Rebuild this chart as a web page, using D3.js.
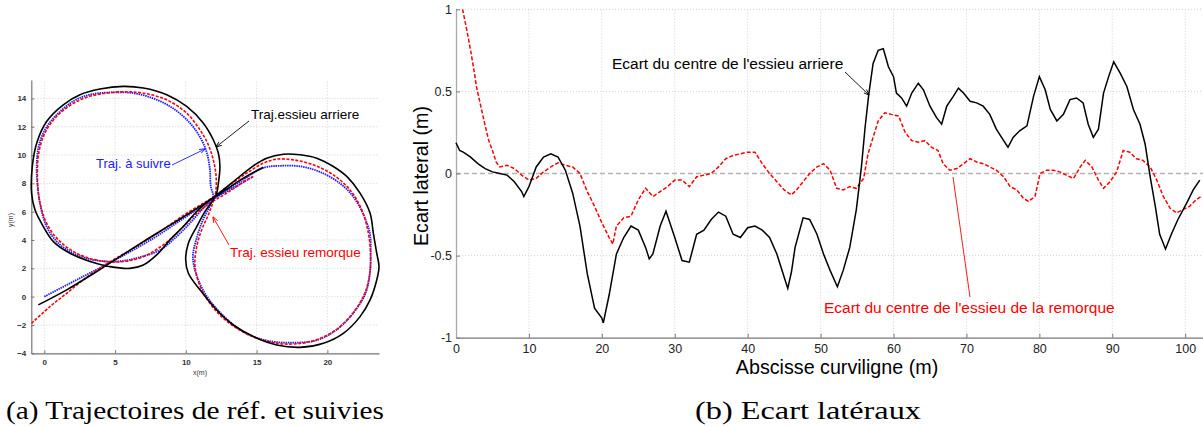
<!DOCTYPE html>
<html><head><meta charset="utf-8">
<script src="https://cdnjs.cloudflare.com/ajax/libs/d3/7.8.5/d3.min.js"></script>
<style>body{margin:0;background:#fff}svg{display:block}</style>
</head><body>
<script>
// ---------- Right plot data (abscisse curviligne, écart latéral) ----------
const rearDev = [[0,0.187],[0.5,0.14],[1,0.13],[2,0.10],[3,0.06],[4,0.03],[5,0.01],[6,0.0],[7,-0.01],[8,-0.05],[9,-0.11],[9.3,-0.14],[10,-0.08],[11,0.04],[12,0.10],[13,0.12],[14,0.10],[15,0.02],[16,-0.12],[17,-0.32],[18,-0.61],[19,-0.82],[20,-0.88],[20.2,-0.91],[21,-0.74],[22,-0.49],[23,-0.39],[24,-0.32],[25,-0.345],[26,-0.45],[26.5,-0.52],[27,-0.49],[28,-0.32],[28.8,-0.23],[30,-0.39],[31,-0.53],[32,-0.54],[33,-0.37],[34,-0.345],[35,-0.28],[36,-0.235],[37,-0.26],[38,-0.37],[39,-0.39],[40,-0.33],[41,-0.32],[42,-0.345],[43,-0.39],[44,-0.49],[45,-0.63],[45.5,-0.70],[46,-0.6],[46.5,-0.45],[47.6,-0.27],[48.5,-0.28],[49.5,-0.37],[50.4,-0.49],[51.3,-0.59],[52.3,-0.69],[53.1,-0.59],[54,-0.45],[54.9,-0.22],[55.6,0.04],[56.1,0.28],[56.6,0.48],[57.2,0.67],[57.9,0.75],[58.6,0.76],[59.3,0.65],[60,0.59],[60.4,0.49],[61.1,0.46],[61.8,0.41],[62.5,0.49],[63.4,0.55],[64.1,0.51],[65,0.41],[65.9,0.34],[66.6,0.30],[67.3,0.41],[68.2,0.47],[68.9,0.52],[69.6,0.49],[70.5,0.44],[71.4,0.43],[72.3,0.41],[73.2,0.36],[74.1,0.27],[75.1,0.20],[75.7,0.16],[76.4,0.22],[77.3,0.26],[78.3,0.29],[79.2,0.47],[80,0.59],[80.8,0.51],[81.5,0.39],[82.4,0.32],[83.3,0.36],[84.2,0.45],[85.1,0.46],[86,0.43],[86.7,0.30],[87.4,0.22],[88.1,0.27],[88.8,0.49],[89.5,0.59],[90.2,0.68],[91.1,0.61],[92,0.53],[92.9,0.39],[93.8,0.30],[94.5,0.18],[95.2,-0.02],[95.9,-0.20],[96.5,-0.37],[97.3,-0.46],[98.1,-0.37],[99,-0.28],[100.2,-0.18],[101.1,-0.10],[102,-0.04]];
const trailDev = [[0.9,1.0],[1.5,0.87],[2,0.75],[2.5,0.62],[2.8,0.53],[3,0.49],[3.5,0.39],[4,0.29],[4.5,0.20],[5,0.14],[5.5,0.07],[6,0.04],[7,0.05],[8,0.03],[9,-0.01],[10,-0.04],[11,-0.03],[12,0.01],[13,0.04],[14,0.065],[15,0.05],[16,0.04],[17,0.0],[18,-0.11],[19,-0.2],[20,-0.30],[21,-0.39],[21.5,-0.43],[22,-0.32],[23,-0.27],[24,-0.26],[25,-0.16],[26,-0.09],[27,-0.14],[28,-0.11],[29,-0.08],[30,-0.04],[31,-0.04],[32,-0.08],[33,-0.02],[34,-0.01],[35,0.0],[36,0.04],[37,0.09],[38,0.11],[39,0.12],[40,0.13],[41,0.13],[42,0.06],[43,0.0],[44,-0.05],[45,-0.10],[46,-0.13],[46.7,-0.10],[47.6,-0.05],[48.5,0.0],[49.5,0.04],[50.4,0.06],[51.3,0.02],[52.2,-0.09],[53.1,-0.10],[54,-0.08],[54.9,-0.09],[55.9,-0.03],[56.5,0.12],[57.2,0.22],[57.9,0.32],[58.8,0.37],[59.7,0.36],[60.7,0.35],[61.6,0.25],[62.5,0.20],[63.4,0.19],[64.3,0.20],[65.2,0.16],[66.1,0.14],[66.8,0.06],[67.7,0.02],[68.7,0.03],[69.6,0.06],[70.5,0.09],[71.4,0.07],[72.3,0.06],[73.2,0.04],[74.1,0.02],[75.1,-0.02],[76,-0.08],[76.9,-0.10],[77.8,-0.15],[78.5,-0.17],[79.4,-0.14],[80.1,0.0],[81,0.02],[81.9,0.02],[82.8,0.01],[83.7,-0.01],[84.7,-0.03],[85.6,0.04],[86.3,0.08],[87.2,0.04],[88.1,-0.04],[88.8,-0.09],[89.7,-0.05],[90.6,0.01],[91.5,0.14],[92.4,0.13],[93.3,0.09],[94.2,0.08],[95.2,0.04],[96.1,-0.04],[97,-0.14],[97.9,-0.21],[98.8,-0.24],[99.7,-0.22],[100.6,-0.20],[101.5,-0.16],[102.2,-0.14]];
const devXTicks = [0,10,20,30,40,50,60,70,80,90,100];
const devYTicks = [-1,-0.5,0,0.5,1];

// ---------- Left plot data (trajectoires x(m), y(m)) ----------
const refPath = [[0,0],[2.5,1.3],[5.0,2.6],[7.5,4.0],[9.8,5.5],[11.9,6.9],[13.8,8.1],[15.5,9.1],[16.7,9.24],[18.1,9.2],[19.5,8.8],[20.9,8.0],[21.8,7.1],[22.5,5.9],[23.0,4.5],[23.06,3.1],[23.0,1.65],[22.7,0.24],[21.8,-1.2],[20.7,-2.3],[19.3,-3.06],[17.6,-3.25],[15.7,-3.1],[14.1,-2.5],[12.7,-1.4],[11.5,0.0],[10.8,1.4],[10.5,2.8],[10.8,4.25],[11.2,5.4],[11.7,6.4],[11.94,7.07],[11.76,7.8],[11.7,9.0],[11.5,10.1],[11.1,11.1],[10.3,12.25],[9.1,13.3],[7.7,14.0],[6.3,14.37],[4.6,14.42],[3.2,14.26],[2.05,13.8],[0.87,12.84],[0.05,11.8],[-0.42,10.5],[-0.54,9.0],[-0.47,7.78],[-0.26,6.35],[0.16,4.95],[0.87,3.9],[1.8,3.2],[3.0,2.7],[4.2,2.5],[5.35,2.5],[6.8,2.8],[8.2,3.3],[9.35,4.25],[10.3,5.2],[11.24,6.25],[11.94,6.88],[13.4,7.7],[14.7,8.44]];
const rearPath = [[-0.42,-0.58],[1.58,0.48],[3.70,1.77],[4.99,2.60],[7.0,3.89],[9.12,5.19],[11.0,6.37],[12.18,7.19],[13.36,8.13],[14.77,9.24],[15.71,9.78],[16.89,10.06],[18.07,10.02],[19.25,9.78],[20.42,9.19],[21.37,8.49],[22.31,7.31],[23.02,5.89],[23.25,4.48],[23.49,3.07],[23.65,2.12],[23.49,1.18],[23.02,-0.23],[22.31,-1.41],[21.13,-2.59],[19.72,-3.29],[18.07,-3.58],[16.42,-3.41],[14.77,-2.82],[13.36,-2.0],[12.18,-0.94],[11.0,0.48],[10.18,1.65],[9.99,2.6],[10.18,3.77],[10.77,4.95],[11.35,6.01],[11.94,6.84],[12.18,7.31],[12.30,8.01],[12.41,9.19],[12.30,10.13],[11.94,11.08],[11.24,12.25],[10.06,13.43],[8.65,14.26],[7.0,14.73],[5.58,14.85],[3.93,14.66],[2.52,14.26],[1.34,13.55],[0.16,12.37],[-0.54,10.84],[-0.85,9.19],[-0.9,7.31],[-0.66,6.13],[-0.07,4.95],[0.64,3.89],[1.81,3.07],[3.23,2.48],[4.64,2.12],[6.05,2.0],[7.0,2.24],[7.94,2.95],[8.88,4.01],[9.82,4.95],[10.77,6.01],[11.71,6.84],[12.65,7.43],[14.06,8.37],[15.48,9.14]];
const trailPath = [[-0.9,-1.88],[0.40,-0.70],[1.58,0.24],[2.99,1.37],[4.40,2.31],[6.29,3.42],[8.17,4.60],[10.06,5.89],[11.71,6.88],[13.12,7.90],[14.30,8.72],[15.48,9.43],[16.42,9.71],[17.60,9.66],[19.01,9.31],[20.42,8.60],[21.60,7.54],[22.43,6.13],[22.90,4.48],[23.06,2.83],[22.97,1.42],[22.54,0.0],[21.60,-1.41],[20.42,-2.47],[18.77,-3.18],[16.89,-3.34],[15.24,-3.01],[13.59,-2.23],[12.18,-1.06],[11.12,0.48],[10.65,2.12],[10.77,3.54],[11.12,4.72],[11.59,5.78],[11.94,6.72],[12.13,7.54],[12.13,8.60],[11.94,9.66],[11.59,10.72],[11.0,11.78],[10.06,12.96],[8.65,13.90],[7.0,14.37],[5.58,14.47],[3.93,14.30],[2.52,13.90],[1.11,12.96],[0.16,11.78],[-0.35,10.37],[-0.49,8.72],[-0.35,6.84],[0.16,5.19],[0.99,4.01],[2.28,3.07],[3.93,2.53],[5.58,2.48],[7.0,2.83],[8.41,3.66],[9.59,4.72],[10.77,5.89],[11.71,6.60],[12.89,7.31],[14.30,8.25],[14.77,8.49]];
const trajXTicks = [0,5,10,15,20];
const trajYTicks = [-4,-2,0,2,4,6,8,10,12,14];

const W = 1203, H = 427;
const svg = d3.select("body").append("svg").attr("width", W).attr("height", H)
  .style("font-family", "'Liberation Sans', Arial, sans-serif");
svg.append("rect").attr("width", W).attr("height", H).attr("fill", "#fff");

const defs = svg.append("defs");
function marker(id, color) {
  defs.append("marker").attr("id", id).attr("viewBox", "0 0 10 10").attr("refX", 9).attr("refY", 5)
    .attr("markerWidth", 7).attr("markerHeight", 7).attr("orient", "auto-start-reverse")
    .append("path").attr("d", "M0,1.5 L10,5 L0,8.5").attr("fill", "none").attr("stroke", color).attr("stroke-width", 1.4);
}
marker("arrK", "#000"); marker("arrB", "#1a1aff"); marker("arrR", "#ff0000");

// ================= LEFT PLOT =================
const lx = d3.scaleLinear().domain([-0.92, 23.65]).range([31.3, 379]);
const ly = d3.scaleLinear().domain([-4, 15.3]).range([353.3, 80]);
const L = svg.append("g");
L.selectAll(".gx").data(trajXTicks).join("line")
  .attr("x1", d => lx(d)).attr("x2", d => lx(d)).attr("y1", ly(-4)).attr("y2", 80)
  .attr("stroke", "#c8c8c8").attr("stroke-width", 0.8).attr("stroke-dasharray", "1,2");
L.selectAll(".gy").data(trajYTicks).join("line")
  .attr("x1", 31.3).attr("x2", 379).attr("y1", d => ly(d)).attr("y2", d => ly(d))
  .attr("stroke", "#c8c8c8").attr("stroke-width", 0.8).attr("stroke-dasharray", "1,2");
const lxAxis = L.append("g").attr("transform", `translate(0,${ly(-4)})`)
  .call(d3.axisBottom(lx).tickValues(trajXTicks).tickSizeInner(-3).tickSizeOuter(0).tickPadding(6));
const lyAxis = L.append("g").attr("transform", `translate(${lx(-0.92)},0)`)
  .call(d3.axisLeft(ly).tickValues(trajYTicks).tickSizeInner(-3).tickSizeOuter(0).tickPadding(5));
[lxAxis, lyAxis].forEach(a => {
  a.select(".domain").attr("stroke", "#777").attr("stroke-width", 1.2);
  a.selectAll(".tick line").attr("stroke", "#777");
  a.selectAll("text").attr("font-size", 8).attr("font-weight", "bold").attr("fill", "#333")
   .attr("font-family", "'Liberation Sans', Arial, sans-serif");
});
L.append("text").attr("x", 200).attr("y", 375).attr("font-size", 7).attr("text-anchor", "middle").attr("fill", "#333").text("x(m)");
L.append("text").attr("transform", "translate(13,220) rotate(-90)").attr("font-size", 7).attr("text-anchor", "middle").attr("fill", "#333").text("y(m)");

const ll = d3.line().x(d => lx(d[0])).y(d => ly(d[1])).curve(d3.curveCatmullRom.alpha(0.5));
L.append("path").attr("d", ll(refPath)).attr("fill", "none").attr("stroke", "#1a1aff").attr("stroke-width", 1.8).attr("stroke-dasharray", "1.5,0.8");
L.append("path").attr("d", ll(trailPath)).attr("fill", "none").attr("stroke", "#ff0000").attr("stroke-width", 1.6).attr("stroke-dasharray", "3,1.5");
L.append("path").attr("d", ll(rearPath)).attr("fill", "none").attr("stroke", "#000").attr("stroke-width", 1.6);

L.append("text").attr("x", 251).attr("y", 119).attr("font-size", 13.5).attr("fill", "#000").text("Traj.essieu arriere");
L.append("line").attr("x1", 249).attr("y1", 121).attr("x2", 216).attr("y2", 147).attr("stroke", "#000").attr("stroke-width", 0.9).attr("marker-end", "url(#arrK)");
L.append("text").attr("x", 96).attr("y", 168).attr("font-size", 13).attr("fill", "#1a1aff").text("Traj. à suivre");
L.append("line").attr("x1", 172).attr("y1", 165).attr("x2", 205).attr("y2", 149).attr("stroke", "#1a1aff").attr("stroke-width", 0.9).attr("marker-end", "url(#arrB)");
L.append("text").attr("x", 230).attr("y", 257).attr("font-size", 13.5).attr("fill", "#ff0000").text("Traj. essieu remorque");
L.append("line").attr("x1", 229).attr("y1", 245).attr("x2", 213).attr("y2", 217).attr("stroke", "#ff0000").attr("stroke-width", 0.9).attr("marker-end", "url(#arrR)");

// ================= RIGHT PLOT =================
const rx = d3.scaleLinear().domain([0, 102.5]).range([456, 456 + 102.5 * 7.292]);
const ry = d3.scaleLinear().domain([-1, 1]).range([337.7, 9.3]);
const R = svg.append("g");
R.selectAll(".gx").data(devXTicks.filter(d => d > 0)).join("line")
  .attr("x1", d => rx(d)).attr("x2", d => rx(d)).attr("y1", ry(-1)).attr("y2", ry(1))
  .attr("stroke", "#c8c8c8").attr("stroke-width", 0.8).attr("stroke-dasharray", "1,2");
R.selectAll(".gy").data(devYTicks.filter(d => d !== -1 && d !== 0)).join("line")
  .attr("x1", rx(0)).attr("x2", W).attr("y1", d => ry(d)).attr("y2", d => ry(d))
  .attr("stroke", "#c8c8c8").attr("stroke-width", 0.8).attr("stroke-dasharray", "1,2");
R.append("line").attr("x1", rx(0)).attr("x2", W).attr("y1", ry(0)).attr("y2", ry(0))
  .attr("stroke", "#b4b4b4").attr("stroke-width", 1.4).attr("stroke-dasharray", "5,3");
const rxAxis = R.append("g").attr("transform", `translate(0,${ry(-1)})`)
  .call(d3.axisBottom(rx).tickValues(devXTicks).tickFormat(d3.format("d")).tickSizeInner(-4).tickSizeOuter(0).tickPadding(6));
const ryAxis = R.append("g").attr("transform", `translate(${rx(0)},0)`)
  .call(d3.axisLeft(ry).tickValues(devYTicks).tickFormat(d => String(d)).tickSizeInner(-4).tickSizeOuter(0).tickPadding(4));
rxAxis.select(".domain").attr("stroke", "#777").attr("stroke-width", 1.3);
ryAxis.select(".domain").attr("stroke", "#aaa").attr("stroke-width", 1.3);
[rxAxis, ryAxis].forEach(a => {
  a.selectAll(".tick line").attr("stroke", "#777");
  a.selectAll("text").attr("font-size", 12.5).attr("fill", "#222").attr("font-family", "'Liberation Sans', Arial, sans-serif");
});
R.append("text").attr("x", 837).attr("y", 374).attr("font-size", 19.7).attr("text-anchor", "middle").attr("fill", "#000").text("Abscisse curviligne (m)");
R.append("text").attr("transform", "translate(428,176) rotate(-90)").attr("font-size", 19.7).attr("text-anchor", "middle").attr("fill", "#000").text("Ecart lateral (m)");

const rl = d3.line().x(d => rx(d[0])).y(d => ry(d[1]));
R.append("path").attr("d", rl(trailDev)).attr("fill", "none").attr("stroke", "#ff0000").attr("stroke-width", 1.5).attr("stroke-dasharray", "4,2");
R.append("path").attr("d", rl(rearDev)).attr("fill", "none").attr("stroke", "#000").attr("stroke-width", 1.5);

R.append("text").attr("x", 612).attr("y", 69).attr("font-size", 15.5).attr("fill", "#000").text("Ecart du centre de l'essieu arriere");
R.append("line").attr("x1", 845).attr("y1", 72).attr("x2", 869).attr("y2", 95).attr("stroke", "#000").attr("stroke-width", 0.9).attr("marker-end", "url(#arrK)");
R.append("text").attr("x", 824).attr("y", 313).attr("font-size", 15.5).attr("fill", "#ff0000").text("Ecart du centre de l'essieu de la remorque");
R.append("line").attr("x1", 970).attr("y1", 297).attr("x2", 953).attr("y2", 177).attr("stroke", "#ff0000").attr("stroke-width", 0.9);

// ================= CAPTIONS =================
svg.append("text").attr("x", 6).attr("y", 419).attr("font-family", "'Liberation Serif', serif").attr("font-size", 26)
  .attr("textLength", 378).attr("lengthAdjust", "spacingAndGlyphs").attr("fill", "#000").text("(a) Trajectoires de réf. et suivies");
svg.append("text").attr("x", 695).attr("y", 419).attr("font-family", "'Liberation Serif', serif").attr("font-size", 26)
  .attr("textLength", 226).attr("lengthAdjust", "spacingAndGlyphs").attr("fill", "#000").text("(b) Ecart latéraux");
</script>
</body></html>
